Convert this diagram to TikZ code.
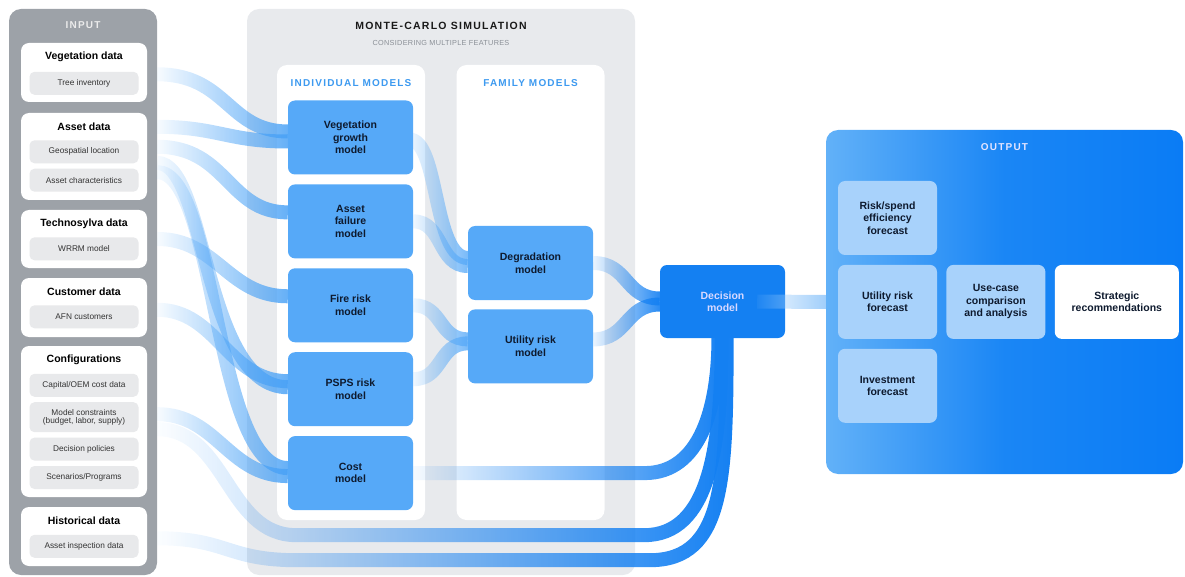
\documentclass[tikz,border=0pt]{standalone}
\usepackage{fontspec}
\setmainfont{Liberation Sans}
\newfontfamily\spaced[LetterSpace=12]{Liberation Sans}
\newfontfamily\lightspaced[LetterSpace=4]{Liberation Sans}
\usetikzlibrary{positioning,calc,fadings}

\definecolor{inputgray}{HTML}{9DA2A8}
\definecolor{itemgray}{HTML}{E8E9EB}
\definecolor{simgray}{HTML}{E8EAED}
\definecolor{headblue}{HTML}{3D9AF0}
\definecolor{modelblue}{HTML}{56A9F8}
\definecolor{decblue}{HTML}{1480F2}
\definecolor{ribbonblue}{HTML}{48A1F6}
\definecolor{outleft}{HTML}{62B1F8}
\definecolor{outmid}{HTML}{1A86F5}
\definecolor{outright}{HTML}{0A7CF5}
\definecolor{forecast}{HTML}{A8D2FB}
\definecolor{ink}{HTML}{0E1A2E}
\definecolor{subink}{HTML}{8A8F96}

\tikzfading[name=fadein, left color=transparent!100, middle color=transparent!40, right color=transparent!0]

\pgfdeclarelayer{background}
\pgfdeclarelayer{ribbons}
\pgfsetlayers{background,ribbons,main}

\tikzset{
  panel/.style={rounded corners=12pt, inner sep=0pt},
  group/.style={fill=white, rounded corners=8pt, minimum width=126pt, inner sep=0pt},
  gtitle/.style={font=\fontsize{10.5}{12}\selectfont\bfseries, text=black, inner sep=0pt},
  item/.style={fill=itemgray, rounded corners=5pt, minimum width=109pt, minimum height=23pt,
    inner sep=0pt, align=center, font=\fontsize{8.3}{9}\selectfont, text=black!80},
  column/.style={fill=white, rounded corners=10pt, minimum width=148pt, minimum height=455pt, inner sep=0pt},
  colhead/.style={font=\spaced\bfseries\fontsize{10}{11}\selectfont, text=headblue},
  model/.style={fill=modelblue, rounded corners=7pt, minimum width=125pt, minimum height=74pt,
    inner sep=0pt, align=center, font=\fontsize{10.5}{12.5}\selectfont\bfseries, text=ink},
  forecastbox/.style={model, fill=forecast, minimum width=99pt},
  ribbon/.style={line width=14pt, draw=ribbonblue, draw opacity=.88, path fading=fadein},
  famribbon/.style={ribbon, draw=modelblue},
  decribbon/.style={ribbon, draw=decblue, draw opacity=1},
}

\begin{document}
\begin{tikzpicture}[x=1pt, y=-1pt]
  \useasboundingbox (0,0) rectangle (1185,577);

  % panels
  \begin{pgfonlayer}{background}
    \node[panel, fill=inputgray, minimum width=148pt, minimum height=566pt] (input) at (83,292) {};
    \node[panel, fill=simgray, minimum width=388pt, minimum height=566pt] (sim) at (441,292) {};
    \node[column] (indiv) at (351,292.5) {};
    \node[column] (family) at (530.5,292.5) {};
    \node[panel, left color=outleft, right color=outright, middle color=outmid,
      minimum width=357pt, minimum height=344pt] (output) at (1004.5,302) {};
  \end{pgfonlayer}

  % input
  \node[text=white!92!black, font=\spaced\bfseries\fontsize{10}{11}\selectfont] (intitle) at (83,25) {INPUT};

  \node[group, minimum height=59pt] (vegdata) at (84,72.5) {};
  \node[gtitle] (vtitle) at ($(vegdata.north)+(0,14)$) {Vegetation data};
  \node[item] (tree) at ($(vegdata.north)+(0,40.5)$) {Tree inventory};

  \node[group, minimum height=87pt] (assetdata) at (84,156.5) {};
  \node[gtitle] (atitle) at ($(assetdata.north)+(0,14)$) {Asset data};
  \node[item] (geo) at ($(assetdata.north)+(0,39)$) {Geospatial location};
  \node[item, below=5pt of geo] (char) {Asset characteristics};

  \node[group, minimum height=58pt] (technodata) at (84,239) {};
  \node[gtitle] (ttitle) at ($(technodata.north)+(0,14)$) {Technosylva data};
  \node[item] (wrrm) at ($(technodata.north)+(0,39)$) {WRRM model};

  \node[group, minimum height=59pt] (custdata) at (84,307.5) {};
  \node[gtitle] (ctitle) at ($(custdata.north)+(0,14)$) {Customer data};
  \node[item] (afn) at ($(custdata.north)+(0,39)$) {AFN customers};

  \node[group, minimum height=151pt] (configdata) at (84,421.5) {};
  \node[gtitle] (gtitle) at ($(configdata.north)+(0,14)$) {Configurations};
  \node[item] (capex) at ($(configdata.north)+(0,39.5)$) {Capital/OEM cost data};
  \node[item, below=5pt of capex, minimum height=30pt] (constr) {Model constraints\\[-1.5pt](budget, labor, supply)};
  \node[item, below=5pt of constr] (policy) {Decision policies};
  \node[item, below=5pt of policy] (scen) {Scenarios/Programs};

  \node[group, minimum height=59pt] (histdata) at (84,536.5) {};
  \node[gtitle] (htitle) at ($(histdata.north)+(0,14)$) {Historical data};
  \node[item] (inspect) at ($(histdata.north)+(0,39.5)$) {Asset inspection data};

  % monte-carlo simulation
  \node[font=\spaced\bfseries\fontsize{10.5}{12}\selectfont, text=black!90] (simtitle) at (441,26) {MONTE-CARLO SIMULATION};
  \node[font=\lightspaced\fontsize{7.3}{8}\selectfont, text=subink] (simsub) at (441,43) {CONSIDERING MULTIPLE FEATURES};
  \node[colhead] (indhead) at ($(indiv.north)+(0,18)$) {INDIVIDUAL MODELS};
  \node[colhead] (famhead) at ($(family.north)+(0,18)$) {FAMILY MODELS};

  \node[model] (vgm) at (350.5,137.5) {Vegetation\\growth\\model};
  \node[model, below=9.5pt of vgm] (afm) {Asset\\failure\\model};
  \node[model, below=9.5pt of afm] (fire) {Fire risk\\model};
  \node[model, below=9.5pt of fire] (psps) {PSPS risk\\model};
  \node[model, below=9.5pt of psps] (cost) {Cost\\model};

  \node[model] (deg) at (530.5,263) {Degradation\\model};
  \node[model, below=9pt of deg] (util) {Utility risk\\model};

  \node[model, fill=decblue, text=white!85!blue, minimum height=73pt] (dec) at (722.5,301.5) {Decision\\model};

  % output
  \node[text=white!90!blue, font=\spaced\bfseries\fontsize{10}{11}\selectfont] (outtitle) at ($(output.north)+(0,17)$) {OUTPUT};
  \node[forecastbox] (rsf) at (887.5,218) {Risk/spend\\efficiency\\forecast};
  \node[forecastbox, below=9.5pt of rsf] (urf) {Utility risk\\forecast};
  \node[forecastbox, below=9.5pt of urf] (inv) {Investment\\forecast};
  \node[forecastbox, right=9pt of urf] (usecase) {Use-case\\comparison\\and analysis};
  \node[forecastbox, fill=white, minimum width=124pt, right=9pt of usecase] (strat) {Strategic\\recommendations};

  \coordinate (lane1) at ($(indiv.south west)+(20,15)$);
  \coordinate (lane2) at ($(lane1)+(0,25)$);
  \coordinate (bend0) at ($(cost.east -| dec.west)+(-15,0)$);
  \coordinate (bend1) at ($(lane1 -| dec.west)+(-15,0)$);
  \coordinate (bend2) at ($(lane2 -| dec.west)+(-10,0)$);

  \begin{pgfonlayer}{ribbons}
    % inputs into individual models
    \draw[ribbon] ($(input.east |- tree)+(0,-9)$) .. controls +(70,0) and +(-60,0) .. ($(vgm.west)+(0,-6)$);
    \draw[ribbon] (input.east |- atitle) .. controls +(60,0) and +(-60,0) .. ($(vgm.west)+(0,4)$);
    \draw[ribbon] ($(input.east |- geo)+(0,-5)$) .. controls +(70,0) and +(-60,0) .. ($(afm.west)+(0,-9)$);
    \draw[ribbon] ($(input.east |- geo)+(0,11)$) .. controls +(50,0) and +(-85,0) .. ($(psps.west)+(0,-2)$);
    \draw[ribbon] ($(input.east |- char)+(0,-8)$) .. controls +(60,0) and +(-75,0) .. ($(cost.west)+(0,-5)$);
    \draw[ribbon] (input.east |- technodata) .. controls +(60,0) and +(-60,0) .. ($(fire.west)+(0,-9)$);
    \draw[ribbon] ($(input.east |- afn)+(0,-7)$) .. controls +(60,0) and +(-60,0) .. ($(psps.west)+(0,-8)$);
    \draw[ribbon] ($(input.east |- constr)+(0,-3)$) .. controls +(60,0) and +(-60,0) .. ($(cost.west)+(0,3)$);

    % straight to the decision model
    \draw[decribbon] ($(input.east |- constr)+(0,12)$) .. controls +(70,0) and +(-70,0) .. (lane1) -- (bend1)
      .. controls +(65,0) and +(0,110) .. (dec.south);
    \draw[decribbon] ($(input.east |- inspect)+(0,-8)$) .. controls +(70,0) and +(-70,0) .. (lane2) -- (bend2)
      .. controls +(75,0) and +(0,140) .. ($(dec.south)+(4,0)$);
    \draw[decribbon] ($(cost.east)+(-5,0)$) -- (bend0) .. controls +(55,0) and +(0,70) .. ($(dec.south)+(-4,0)$);

    % individual into family models
    \draw[famribbon] ($(vgm.east)+(-4,2)$) .. controls +(30,0) and +(-35,0) .. ($(deg.west)+(0,-5)$);
    \draw[famribbon] (afm.east) .. controls +(30,0) and +(-30,0) .. ($(deg.west)+(0,3)$);
    \draw[famribbon] (fire.east) .. controls +(30,0) and +(-30,0) .. ($(util.west)+(0,-7)$);
    \draw[famribbon] ($(psps.east)+(0,-10)$) .. controls +(30,0) and +(-30,0) .. ($(util.west)+(0,-3)$);

    % family into decision
    \draw[decribbon] (deg.east) .. controls +(35,0) and +(-35,0) .. ($(dec.west)+(0,-3)$);
    \draw[decribbon] ($(util.east)+(0,-7)$) .. controls +(35,0) and +(-35,0) .. ($(dec.west)+(0,3)$);
  \end{pgfonlayer}

  % decision into output
  \draw[ribbon, draw=forecast!80!modelblue, draw opacity=1] ($(dec.east)+(-28,0)$) -- (output.west);
\end{tikzpicture}
\end{document}
